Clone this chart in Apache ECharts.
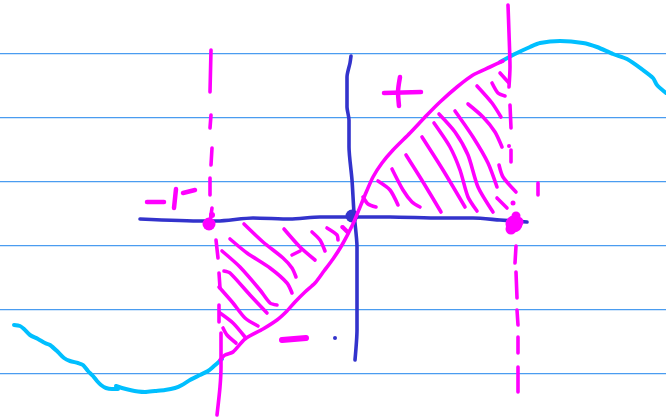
<!DOCTYPE html>
<html><head><meta charset="utf-8">
<style>html,body{margin:0;padding:0;background:#fff}#c{width:666px;height:419px}</style>
<script src="https://cdn.jsdelivr.net/npm/echarts@6/dist/echarts.min.js"></script>
</head><body><div id="c"></div>
<script>
const ruleLevels = [53.7,117.7,181.7,245.7,309.7,373.7];
const cyanLeft = [[14,325],[20,326],[24,329],[30,335],[38,339],[45,343],[50,345],[58,352],[64,358],[70,361],[78,363],[83,365],[88,371],[93,376],[97,381],[101,385],[106,388],[112,389],[118,389]];
const cyanMiddle = [[116,386],[122,388],[130,390],[138,391.5],[145,392],[155,391],[165,390],[175,388],[182,385],[190,380],[200,375],[208,371],[214,366],[222,359]];
const cyanRight = [[500,62],[517,53],[530,47],[540,43],[560,41],[583,43],[597,47],[613,54],[627,59],[643,70],[653,78],[657,85],[666,93]];
const curve = [[220,360],[225,355],[233,352],[245,339],[263,329],[277,320],[287,311],[295,302],[305,292],[315,283],[324,271],[333,259],[342,245],[352,226],[358,212],[365,195],[373,177],[382,163],[393,150],[410,133],[427,115],[440,102],[457,87],[473,75],[490,67],[503,61]];
const axisX = [[140,219],[203,221],[217,221],[253,218],[290,219],[320,217],[347,217],[390,217],[440,218],[473,218],[500,220],[527,222]];
const axisY = [[351,56],[350,63],[347,77],[347,107],[349,120],[349,147],[352,180],[354,213],[357,247],[357,280],[357,330],[355,360]];
const dashesLeft = [[[211,50],[210,92]],[[211,115],[210,128]],[[212,148],[211,165]],[[210,178],[210,195]],[[212,208],[210,222]],[[216,240],[218,258]],[[219,273],[220,288]],[[219,305],[219,322]],[[221,333],[221,367],[220,387],[217,415]]];
const dashesRight = [[[508,5],[509,33],[510,67],[509,87]],[[510,105],[511,128]],[[511,150],[511,162]],[[516,246],[515,263]],[[516,272],[517,298]],[[517,310],[518,325]],[[518,337],[518,353]],[[518,367],[518,392]]];
const hatchLower = [
 [[244,224],[263,242],[283,258],[292,268],[296,277]],
 [[230,239],[247,253],[270,268],[287,283],[292,293]],
 [[222,251],[240,267],[260,290],[270,303],[277,305]],
 [[224,271],[230,273],[250,295],[267,313]],
 [[219,287],[233,303],[245,318],[258,326]],
 [[220,313],[233,323],[245,337]],
 [[223,328],[227,335],[236,343]],
 [[292,255],[300,251]],
 [[284,229],[300,247],[315,260]],
 [[312,232],[320,240],[325,251]],
 [[327,228],[337,235],[338,240]],
 [[343,227],[347,231]],
 [[342,227],[348,233]]
];
const hatchUpper = [
 [[363,197],[368,204],[376,207]],
 [[378,181],[390,190],[398,205]],
 [[392,169],[403,190],[412,202],[420,207]],
 [[406,155],[423,182],[441,212]],
 [[422,137],[443,170],[465,207]],
 [[434,123],[450,147],[460,170],[468,197],[477,211]],
 [[439,114],[455,132],[468,155],[478,187],[493,212]],
 [[455,111],[473,137],[488,163],[497,187]],
 [[468,104],[483,117],[495,132],[502,147]],
 [[477,86],[492,103],[501,117]],
 [[492,83],[498,93],[505,96]],
 [[500,73],[509,83]],
 [[499,165],[503,177],[516,192]],
 [[497,198],[507,208]],
 [[538,183],[538,195]]
];
const signStrokes = [
 [[147,202],[164,202]],
 [[176,189],[174,208]],
 [[183,193],[195,190]],
 [[384,93],[421,92]],
 [[400,77],[398,92],[399,106]]
];
const minusStroke = [[282,340],[306,338]];
const magentaDots = [[209,224,13],[212,215,6],[514,224,17],[516,216,9],[511,229,11],[518,222,11],[509,146,4],[513,203,5]];
const blueDots = [[352,216,13],[335,338,4]];

const CYAN='#00bfff', MAGENTA='#ff00ff', BLUE='#3333cc', RULE='#4a9cf0';
const stroke=(data,color,width,z)=>({type:'line',data,symbol:'none',smooth:0.25,silent:true,z,
  lineStyle:{color,width,cap:'round',join:'round'}});
const dots=(data,color,z)=>({type:'scatter',data:data.map(d=>[d[0],d[1]]),symbol:'circle',
  symbolSize:(v,p)=>data[p.dataIndex][2],itemStyle:{color,opacity:1},silent:true,z});
const series=[
 ...ruleLevels.map(y=>({type:'line',data:[[0,y],[666,y]],symbol:'none',silent:true,z:1,lineStyle:{color:RULE,width:1.3}})),
 stroke(axisX,BLUE,3.6,3),stroke(axisY,BLUE,3.6,3),dots(blueDots,BLUE,3),
 stroke(cyanLeft,CYAN,4,4),stroke(cyanMiddle,CYAN,4,4),stroke(cyanRight,CYAN,4,4),
 stroke(curve,MAGENTA,3.6,5),
 ...dashesLeft.map(s=>stroke(s,MAGENTA,3.6,5)),
 ...dashesRight.map(s=>stroke(s,MAGENTA,3.6,5)),
 ...hatchLower.map(s=>stroke(s,MAGENTA,3.6,5)),
 ...hatchUpper.map(s=>stroke(s,MAGENTA,3.6,5)),
 ...signStrokes.map(s=>stroke(s,MAGENTA,4.5,5)),
 stroke(minusStroke,MAGENTA,6,5),
 dots(magentaDots,MAGENTA,6)
];
const chart=echarts.init(document.getElementById('c'),null,{renderer:'canvas'});
chart.setOption({animation:false,backgroundColor:'#fff',
 grid:{left:0,right:0,top:0,bottom:0},
 xAxis:{type:'value',min:0,max:666,show:false},
 yAxis:{type:'value',min:0,max:419,inverse:true,show:false},
 series});
</script></body></html>
